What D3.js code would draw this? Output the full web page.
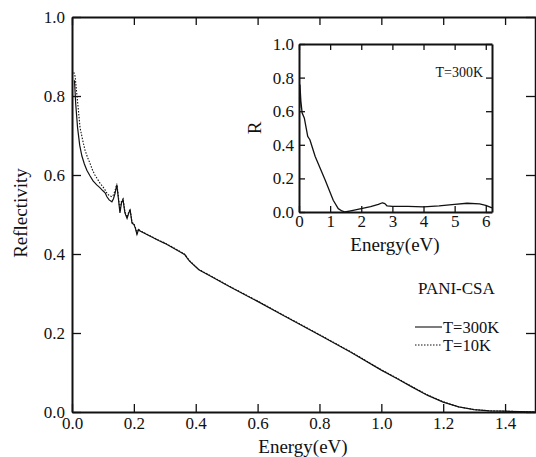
<!DOCTYPE html>
<html>
<head>
<meta charset="utf-8">
<script src="https://cdn.jsdelivr.net/npm/d3@7"></script>
<style>
  body { margin: 0; background: #fff; }
  svg { display: block; }
  svg text { font-family: "Liberation Serif", "Times New Roman", Times, "DejaVu Serif", "Noto Serif", serif; fill: #111; }
  .axis path, .axis line { stroke: #111; }
</style>
</head>
<body>
<div id="chart"></div>
<script>
// main panel: reflectivity vs energy (eV)
var energy300 = [0.008, 0.012, 0.018, 0.025, 0.032, 0.04, 0.048, 0.058, 0.068, 0.08, 0.09, 0.1, 0.107, 0.113, 0.12, 0.129, 0.134, 0.139, 0.145, 0.15, 0.155, 0.16, 0.165, 0.171, 0.178, 0.184, 0.188, 0.194, 0.2, 0.205, 0.21, 0.215, 0.22, 0.25, 0.28, 0.3, 0.33, 0.35, 0.365, 0.372, 0.38, 0.41, 0.45, 0.51, 0.6, 0.67, 0.8, 0.9, 1.0, 1.05, 1.1, 1.15, 1.2, 1.25, 1.3, 1.35, 1.4, 1.45, 1.5];
var refl300 = [0.84, 0.78, 0.72, 0.675, 0.648, 0.628, 0.612, 0.598, 0.585, 0.575, 0.568, 0.56, 0.555, 0.545, 0.537, 0.532, 0.54, 0.553, 0.575, 0.54, 0.504, 0.53, 0.537, 0.504, 0.49, 0.505, 0.511, 0.478, 0.475, 0.465, 0.45, 0.462, 0.458, 0.446, 0.434, 0.427, 0.414, 0.405, 0.398, 0.39, 0.382, 0.36, 0.343, 0.317, 0.28, 0.25, 0.195, 0.152, 0.106, 0.085, 0.063, 0.042, 0.025, 0.013, 0.006, 0.003, 0.002, 0.001, 0.0];

var energy10 = [0.006, 0.01, 0.015, 0.02, 0.026, 0.034, 0.042, 0.05, 0.058, 0.066, 0.074, 0.082, 0.09, 0.1, 0.107, 0.113, 0.12, 0.129, 0.134, 0.139, 0.145, 0.15, 0.155, 0.16, 0.165, 0.171, 0.178, 0.184, 0.188, 0.194, 0.2, 0.205, 0.21, 0.215, 0.22, 0.25, 0.28, 0.3, 0.33, 0.35, 0.365, 0.372, 0.38, 0.41, 0.45, 0.51, 0.6, 0.67, 0.8, 0.9, 1.0, 1.05, 1.1, 1.15, 1.2, 1.25, 1.3, 1.35, 1.4, 1.45, 1.5];
var refl10 = [0.86, 0.85, 0.81, 0.77, 0.72, 0.69, 0.663, 0.645, 0.63, 0.613, 0.6, 0.59, 0.58, 0.57, 0.562, 0.554, 0.548, 0.545, 0.55, 0.56, 0.578, 0.545, 0.51, 0.534, 0.54, 0.508, 0.493, 0.508, 0.513, 0.48, 0.477, 0.467, 0.452, 0.463, 0.459, 0.447, 0.435, 0.428, 0.415, 0.406, 0.399, 0.391, 0.383, 0.361, 0.344, 0.318, 0.281, 0.251, 0.196, 0.153, 0.107, 0.086, 0.064, 0.043, 0.026, 0.013, 0.006, 0.003, 0.002, 0.001, 0.0];

var mainXTicks = [0, 0.2, 0.4, 0.6, 0.8, 1.0, 1.2, 1.4];
var mainYTicks = [0, 0.2, 0.4, 0.6, 0.8, 1.0];

// inset: wide range at 300K
var insetEnergy = [0.02, 0.03, 0.06, 0.1, 0.17, 0.28, 0.35, 0.52, 0.84, 1.1, 1.26, 1.38, 1.48, 1.7, 2.0, 2.3, 2.55, 2.68, 2.76, 2.83, 3.0, 3.5, 4.0, 4.5, 5.0, 5.4, 5.8, 6.0, 6.2];
var insetRefl = [0.62, 0.756, 0.66, 0.59, 0.56, 0.45, 0.43, 0.33, 0.19, 0.07, 0.02, 0.006, 0.0, 0.008, 0.02, 0.032, 0.045, 0.055, 0.05, 0.036, 0.034, 0.033, 0.03, 0.036, 0.045, 0.052, 0.048, 0.04, 0.024];

var insetXTicks = [0, 1, 2, 3, 4, 5, 6];
var insetYTicks = [0, 0.2, 0.4, 0.6, 0.8, 1.0];

var W = 536, H = 457;
var svg = d3.select("#chart").append("svg").attr("width", W).attr("height", H);

var x = d3.scaleLinear().domain([0, 1.5]).range([72, 536]);
var y = d3.scaleLinear().domain([0, 1]).range([412, 17]);
var f1 = d3.format(".1f");

function styleAxis(g, sw, fs) {
  g.attr("class", "axis").attr("font-family", null);
  g.select(".domain").attr("stroke-width", sw);
  g.selectAll(".tick line").attr("stroke-width", 1.3);
  g.selectAll("text").attr("font-size", fs);
}

// main axes
svg.append("g").attr("transform", "translate(0,412)")
  .call(d3.axisBottom(x).tickValues(mainXTicks).tickFormat(f1).tickSize(-8).tickSizeOuter(0).tickPadding(5))
  .call(function (g) { styleAxis(g, 2, 17); });
svg.append("g").attr("transform", "translate(0,17)")
  .call(d3.axisTop(x).tickValues(mainXTicks).tickFormat("").tickSize(-8).tickSizeOuter(0))
  .call(function (g) { styleAxis(g, 2, 17); });
svg.append("g").attr("transform", "translate(72,0)")
  .call(d3.axisLeft(y).tickValues(mainYTicks).tickFormat(f1).tickSize(-9).tickSizeOuter(0).tickPadding(7))
  .call(function (g) { styleAxis(g, 2, 17); });
svg.append("g").attr("transform", "translate(535,0)")
  .call(d3.axisRight(y).tickValues(mainYTicks).tickFormat("").tickSize(-9).tickSizeOuter(0))
  .call(function (g) { styleAxis(g, 1.5, 17); });

var line = d3.line().x(function (d) { return x(d[0]); }).y(function (d) { return y(d[1]); });

svg.append("path")
  .datum(d3.zip(energy10, refl10))
  .attr("d", line).attr("fill", "none").attr("stroke", "#111")
  .attr("stroke-width", 1.1).attr("stroke-dasharray", "1.5,1.5");
svg.append("path")
  .datum(d3.zip(energy300, refl300))
  .attr("d", line).attr("fill", "none").attr("stroke", "#111").attr("stroke-width", 1.2);

// axis titles
svg.append("text").attr("x", 303).attr("y", 453).attr("text-anchor", "middle")
  .attr("font-size", 19).text("Energy(eV)");
svg.append("text").attr("transform", "translate(27,213) rotate(-90)").attr("text-anchor", "middle")
  .attr("font-size", 19).text("Reflectivity");

// labels / legend
svg.append("text").attr("x", 418).attr("y", 294).attr("font-size", 17).text("PANI-CSA");
var legend = [{ label: "T=300K", dash: null, y: 327 }, { label: "T=10K", dash: "1.5,1.5", y: 345 }];
legend.forEach(function (d) {
  svg.append("line").attr("x1", 415).attr("x2", 442).attr("y1", d.y).attr("y2", d.y)
    .attr("stroke", "#111").attr("stroke-width", 1.1).attr("stroke-dasharray", d.dash);
  svg.append("text").attr("x", 443).attr("y", d.y + 5.5).attr("font-size", 16.5).text(d.label);
});

// inset
var ix = d3.scaleLinear().domain([0, 6.2]).range([299, 492]);
var iy = d3.scaleLinear().domain([0, 1]).range([212, 44]);
var ifmt = d3.format("d");

svg.append("rect").attr("x", 299).attr("y", 44).attr("width", 193).attr("height", 168).attr("fill", "#fff");

svg.append("g").attr("transform", "translate(0,212)")
  .call(d3.axisBottom(ix).tickValues(insetXTicks).tickFormat(ifmt).tickSize(-6).tickSizeOuter(0).tickPadding(3))
  .call(function (g) { styleAxis(g, 2, 17); });
svg.append("g").attr("transform", "translate(0,44)")
  .call(d3.axisTop(ix).tickValues(insetXTicks).tickFormat("").tickSize(-6).tickSizeOuter(0))
  .call(function (g) { styleAxis(g, 2, 17); });
svg.append("g").attr("transform", "translate(299,0)")
  .call(d3.axisLeft(iy).tickValues(insetYTicks).tickFormat(f1).tickSize(-6).tickSizeOuter(0).tickPadding(5))
  .call(function (g) { styleAxis(g, 2, 17); });
svg.append("g").attr("transform", "translate(492,0)")
  .call(d3.axisRight(iy).tickValues(insetYTicks).tickFormat("").tickSize(-6).tickSizeOuter(0))
  .call(function (g) { styleAxis(g, 2, 17); });

var iline = d3.line().x(function (d) { return ix(d[0]); }).y(function (d) { return iy(d[1]); });
svg.append("path")
  .datum(d3.zip(insetEnergy, insetRefl))
  .attr("d", iline).attr("fill", "none").attr("stroke", "#111").attr("stroke-width", 1.3)
  .attr("stroke-linejoin", "round");

svg.append("text").attr("x", 395).attr("y", 251).attr("text-anchor", "middle")
  .attr("font-size", 19).text("Energy(eV)");
svg.append("text").attr("transform", "translate(261,128) rotate(-90)").attr("text-anchor", "middle")
  .attr("font-size", 19).text("R");
svg.append("text").attr("x", 483).attr("y", 77).attr("text-anchor", "end")
  .attr("font-size", 14).text("T=300K");
</script>
</body>
</html>
